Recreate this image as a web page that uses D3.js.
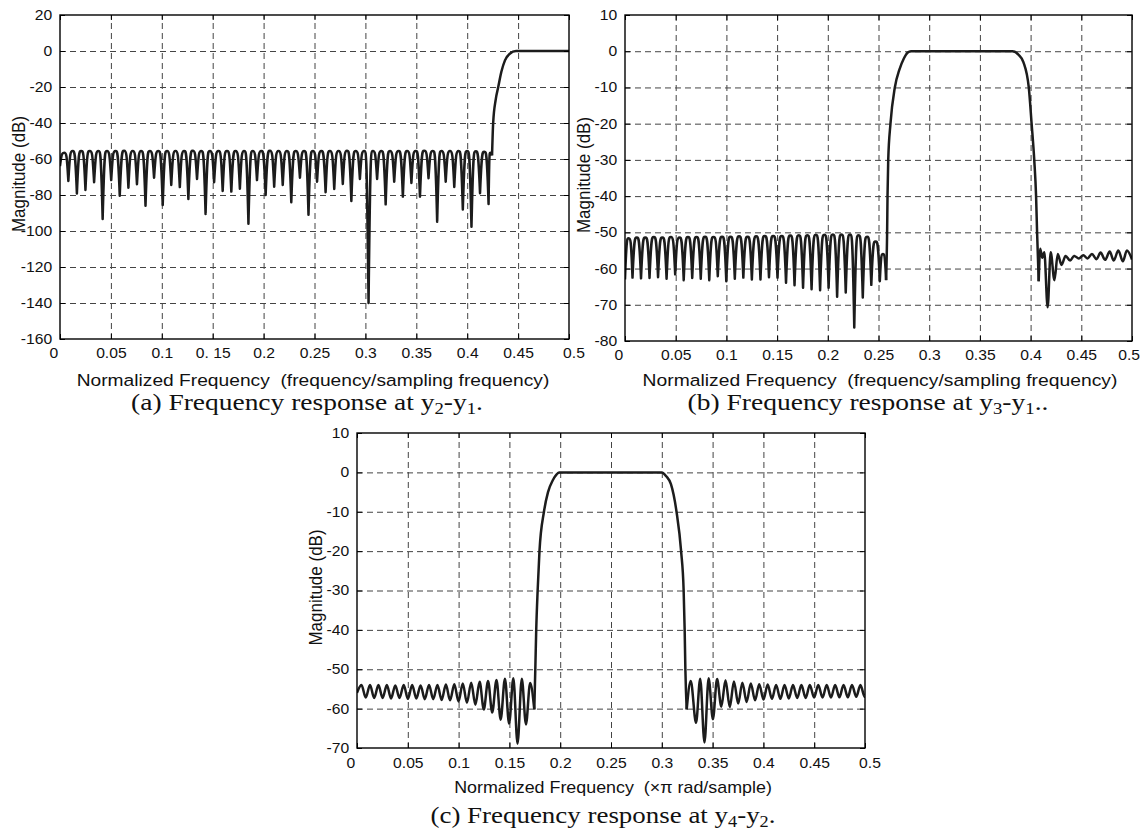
<!DOCTYPE html>
<html>
<head>
<meta charset="utf-8">
<script src="https://cdn.jsdelivr.net/npm/d3@7"></script>
<style>
  body { margin: 0; background: #fff; }
  svg { display: block; }
</style>
</head>
<body>
<svg width="1145" height="835"></svg>
<script>
///////////////////////////////////////////
// Data
var xTicks = [0, 0.05, 0.1, 0.15, 0.2, 0.25, 0.3, 0.35, 0.4, 0.45, 0.5];
var xTickLabelsA = ["0", "0.05", "0.1", "0. 15", "0.2", "0.25", "0.3", "0.35", "0.4", "0.45", "0.5"];
var xTickLabels = ["0", "0.05", "0.1", "0.15", "0.2", "0.25", "0.3", "0.35", "0.4", "0.45", "0.5"];
var aYTicks = [20, 0, -20, -40, -60, -80, -100, -120, -140, -160];
var bYTicks = [10, 0, -10, -20, -30, -40, -50, -60, -70, -80];
var cYTicks = [10, 0, -10, -20, -30, -40, -50, -60, -70];

// (a) stopband lobes: notch frequency / notch depth, and the peak of each lobe between two notches
var aNotchF = [0, 0.0082, 0.0166, 0.0250, 0.0335, 0.0419, 0.0503, 0.0587, 0.0672, 0.0756, 0.0840,
  0.0924, 0.1009, 0.1093, 0.1177, 0.1261, 0.1346, 0.1430, 0.1514, 0.1598, 0.1683, 0.1767, 0.1851,
  0.1935, 0.2020, 0.2104, 0.2188, 0.2272, 0.2357, 0.2441, 0.2525, 0.2609, 0.2694, 0.2778, 0.2862,
  0.2946, 0.3031, 0.3115, 0.3199, 0.3283, 0.3368, 0.3452, 0.3536, 0.3620, 0.3705, 0.3789, 0.3873,
  0.3957, 0.4042, 0.4126, 0.4210, 0.4244];
var aNotchDb = [-64, -72.2, -79.1, -77.2, -72.9, -93.3, -71.7, -80.4, -76.0, -74.0, -86.0,
  -70.4, -85.5, -74.4, -75.6, -82.2, -71.1, -90.5, -72.9, -77.8, -78.1, -76.5, -96.0,
  -71.7, -80.0, -75.4, -74.4, -84.0, -70.4, -91.0, -72.6, -78.5, -76.7, -73.9, -83.3,
  -71.1, -140.0, -71.1, -85.2, -72.6, -80.9, -73.3, -80.9, -70.7, -94.8, -72.6, -75.5,
  -88.0, -97.6, -79.0, -85.0, -58];
var aPeakDb = [-56.5, -55.6, -55.5, -55.5, -55.6, -55.5, -55.5, -55.4, -55.5, -55.6,
  -55.5, -55.5, -55.5, -55.6, -55.5, -55.4, -55.5, -55.5, -55.6, -55.5,
  -55.5, -55.5, -55.6, -55.5, -55.4, -55.5, -55.5, -55.6, -55.5, -55.5,
  -55.5, -55.6, -55.5, -55.4, -55.5, -55.5, -55.6, -55.5, -55.5, -55.5,
  -55.6, -55.5, -55.4, -55.5, -55.5, -55.6, -55.5, -55.5, -55.7, -56.0, -56.5];
// (a) transition band and passband
var aEdgeF = [0.4244, 0.4255, 0.4280, 0.4305, 0.4335, 0.4371, 0.4418, 0.4480, 0.5];
var aEdgeDb = [-58, -40, -27, -20, -11.7, -5.2, -1.5, 0, 0];

// (b) lower stopband lobes
var bNotchF = [0, 0.0074, 0.0158, 0.0242, 0.0326, 0.0410, 0.0495, 0.0579, 0.0663, 0.0747, 0.0831,
  0.0915, 0.0999, 0.1083, 0.1167, 0.1251, 0.1336, 0.1420, 0.1504, 0.1588, 0.1672, 0.1756,
  0.1840, 0.1924, 0.2008, 0.2092, 0.2177, 0.2261, 0.2345, 0.2429, 0.2513, 0.2575];
var bNotchDb = [-63, -62.5, -62.7, -62.6, -62.4, -62.8, -61.6, -63.2, -62.6, -62.8, -63.2,
  -62.1, -63.5, -62.8, -62.5, -63.0, -63.0, -62.4, -62.5, -63.9, -64.6, -65.3,
  -65.7, -66.0, -65.3, -67.8, -66.6, -76.3, -68.0, -64.5, -63.5, -63.2];
var bPeakDb = [-51.6, -51.4, -51.4, -51.3, -51.4, -51.3, -51.4, -51.3, -51.3, -51.2, -51.3,
  -51.2, -51.2, -51.1, -51.2, -51.1, -51.0, -51.0, -51.0, -50.9, -50.8, -50.8, -50.7,
  -50.7, -50.6, -50.6, -50.6, -50.8, -51.2, -52.5, -56.0];
// (b) passband
var bEdgeF = [0.2575, 0.2585, 0.2589, 0.2596, 0.2618, 0.2661, 0.2707, 0.2750, 0.2786, 0.2821,
  0.3821, 0.3882, 0.3929, 0.3982, 0.4010, 0.4036, 0.4054, 0.4064, 0.4080];
var bEdgeDb = [-63.2, -50, -40, -30, -20, -10, -5, -2, -0.4, 0,
  0, -1, -3, -10, -20, -30, -40, -50, -63.5];
// (b) upper stopband
var bRightF = [0.4080, 0.4095, 0.4115, 0.4135, 0.4168, 0.4198, 0.4235, 0.4268, 0.4305, 0.4345,
  0.4390, 0.4430, 0.4475, 0.4520, 0.4560, 0.4605, 0.4650, 0.4690, 0.4735, 0.4780, 0.4820,
  0.4865, 0.4910, 0.4950, 0.5000];
var bRightDb = [-63.5, -54.5, -57.0, -55.5, -70.7, -55.5, -63.2, -56.0, -59.0, -56.5,
  -57.8, -56.5, -57.2, -56.3, -57.2, -56.0, -57.4, -55.6, -57.6, -55.3, -57.8,
  -55.0, -58.0, -55.0, -57.5];

// (c) lower stopband (alternating peak / trough)
var cLeftF = [0, 0.0044, 0.0086, 0.0128, 0.0169, 0.0211, 0.0252, 0.0294, 0.0335, 0.0377, 0.0418,
  0.0460, 0.0501, 0.0543, 0.0584, 0.0626, 0.0667, 0.0709, 0.0750, 0.0792, 0.0833, 0.0875,
  0.0916, 0.0958, 0.0999, 0.1041, 0.1082, 0.1124, 0.1165, 0.1207, 0.1248, 0.1290, 0.1331,
  0.1373, 0.1414, 0.1456, 0.1497, 0.1539, 0.1580, 0.1622, 0.1663, 0.1704, 0.1745];
var cLeftDb = [-56.0, -54.0, -57.2, -54.0, -57.3, -54.0, -57.3, -54.0, -57.4, -54.1, -57.3,
  -54.0, -57.5, -54.0, -57.4, -54.1, -57.6, -54.0, -57.6, -54.0, -57.8, -53.9,
  -57.9, -53.8, -58.2, -53.6, -58.5, -53.4, -59.0, -53.2, -60.2, -53.0, -61.0,
  -52.7, -62.8, -52.4, -63.8, -52.3, -68.9, -52.4, -64.0, -53.5, -60.2];
// (c) passband
var cEdgeF = [0.1745, 0.1755, 0.1764, 0.1778, 0.1796, 0.1840, 0.1880, 0.1927, 0.1965, 0.1990,
  0.3000, 0.3044, 0.3090, 0.3145, 0.3190, 0.3215, 0.3225, 0.3232, 0.3245];
var cEdgeDb = [-60.2, -50, -40, -30, -20, -10, -5, -2, -0.5, 0,
  0, -1, -3, -10, -20, -30, -40, -50, -60.2];
// (c) upper stopband
var cRightF = [0.3245, 0.3285, 0.3337, 0.3378, 0.3420, 0.3461, 0.3503, 0.3544, 0.3586, 0.3627,
  0.3669, 0.3710, 0.3752, 0.3793, 0.3835, 0.3876, 0.3918, 0.3959, 0.4001, 0.4042, 0.4084,
  0.4125, 0.4167, 0.4208, 0.4250, 0.4291, 0.4333, 0.4374, 0.4416, 0.4457, 0.4499, 0.4540,
  0.4582, 0.4623, 0.4665, 0.4706, 0.4748, 0.4789, 0.4831, 0.4872, 0.4914, 0.4955, 0.4997, 0.5];
var cRightDb = [-60.2, -53.0, -63.6, -52.4, -68.6, -52.3, -62.7, -52.5, -59.5, -52.8,
  -59.6, -53.1, -58.7, -53.4, -58.3, -53.6, -57.9, -53.8, -57.7, -53.9, -57.5,
  -54.0, -57.5, -54.0, -57.4, -54.0, -57.3, -54.0, -57.3, -54.0, -57.2, -54.0,
  -57.2, -54.0, -57.2, -54.0, -57.1, -54.0, -57.1, -54.0, -57.0, -54.0, -57.0, -56.9];

///////////////////////////////////////////
// Layout Setting
var sansFont = "'Liberation Sans', Arial, Helvetica, sans-serif",
    serifFont = "'Liberation Serif', 'Times New Roman', serif",
    tickFontSize = 14,
    labelFontSize = 17,
    captionFontSize = 24,
    textStretch = 1.12,   // the picture is a little wider than tall, text included
    lineColor = "#1c1c1c",
    lineWidth = 2.5,
    gridColor = "#444";

var panels = [
  { id: "a", left: 60, right: 569, top: 15, bottom: 339, yDomain: [-160, 20], yTicks: aYTicks,
    xLabels: xTickLabelsA, xTitle: "Normalized Frequency  (frequency/sampling frequency)",
    xTitleX: 313, xTitleY: 386, xTitleW: 473, xTitleSize: 17, lastDx: 4,
    capX: 307, captionY: 410, capW: 352, cap: ["(a) Frequency response at y", "2", "-y", "1", "."],
    lobes: [{ f: aNotchF, db: aNotchDb, pk: aPeakDb }],
    smooth: [{ f: aEdgeF, db: aEdgeDb }] },
  { id: "b", left: 625, right: 1132, top: 15, bottom: 341, yDomain: [-80, 10], yTicks: bYTicks,
    xLabels: xTickLabels, xTitle: "Normalized Frequency  (frequency/sampling frequency)",
    xTitleX: 880, xTitleY: 386, xTitleW: 475, xTitleSize: 17, lastDx: -3,
    capX: 868, captionY: 410, capW: 361, cap: ["(b) Frequency response at y", "3", "-y", "1", ".."],
    lobes: [{ f: bNotchF, db: bNotchDb, pk: bPeakDb }],
    smooth: [{ f: bEdgeF, db: bEdgeDb }, { f: bRightF, db: bRightDb }] },
  { id: "c", left: 357, right: 865, top: 433, bottom: 748, yDomain: [-70, 10], yTicks: cYTicks,
    xLabels: xTickLabels, xTitle: "Normalized Frequency  (\u00d7\u03c0 rad/sample)",
    xTitleX: 613, xTitleY: 793, xTitleW: 318, xTitleSize: 16, lastDx: 4,
    capX: 603, captionY: 823, capW: 345, cap: ["(c) Frequency response at y", "4", "-y", "2", "."],
    lobes: [],
    smooth: [{ f: cLeftF, db: cLeftDb }, { f: cEdgeF, db: cEdgeDb }, { f: cRightF, db: cRightDb }] }
];

var svg = d3.select("svg");

///////////////////////////////////////////
// Lobes: each lobe is drawn as two cubic halves, notch -> peak -> notch,
// steep at the notch and round at the peak (the usual look of a dB stopband)
function lobePath(f, db, pk, x, y) {
  var p = d3.path();
  p.moveTo(x(f[0]), y(db[0]));
  for (var i = 1; i < f.length; i++) {
    var x0 = x(f[i - 1]), y0 = y(db[i - 1]), x1 = x(f[i]), y1 = y(db[i]);
    var yp = y(pk[i - 1] !== undefined ? pk[i - 1] : pk[pk.length - 1]);
    var xm = (x0 + x1) / 2, h = xm - x0;
    p.bezierCurveTo(x0 + 0.4 * h, yp, xm - 0.5 * h, yp, xm, yp);
    p.bezierCurveTo(xm + 0.5 * h, yp, x1 - 0.4 * h, yp, x1, y1);
  }
  return p.toString();
}

// squeeze / stretch a text horizontally about cx so it spans width w
function fitWidth(sel, cx, w) {
  var bw = sel.node().getBBox().width || w;
  var s = w / bw;
  sel.attr("transform", "translate(" + cx + ",0) scale(" + s + ",1) translate(" + (-cx) + ",0)");
}

panels.forEach(function(P) {
  var x = d3.scaleLinear().domain([0, 0.5]).range([P.left, P.right]);
  var y = d3.scaleLinear().domain(P.yDomain).range([P.bottom, P.top]);
  var h = P.bottom - P.top, w = P.right - P.left;
  var g = svg.append("g").attr("class", "panel-" + P.id);

  // grid (dashed)
  var gridX = xTicks.filter(function(d) { return d > 0 && d < 0.5; });
  var gridY = P.yTicks.filter(function(d) { return d > P.yDomain[0] && d < P.yDomain[1]; });
  g.append("g").attr("transform", "translate(0," + P.bottom + ")")
    .call(d3.axisBottom(x).tickValues(gridX).tickSize(-h).tickFormat(""))
    .call(function(s) { s.select(".domain").remove(); })
    .selectAll("line").attr("stroke", gridColor).attr("stroke-width", 1).attr("stroke-dasharray", "6,4");
  g.append("g").attr("transform", "translate(" + P.left + ",0)")
    .call(d3.axisLeft(y).tickValues(gridY).tickSize(-w).tickFormat(""))
    .call(function(s) { s.select(".domain").remove(); })
    .selectAll("line").attr("stroke", gridColor).attr("stroke-width", 1).attr("stroke-dasharray", "6,4");

  // clip for curves
  g.append("clipPath").attr("id", "clip-" + P.id)
    .append("rect").attr("x", P.left).attr("y", P.top).attr("width", w).attr("height", h);
  var curves = g.append("g").attr("clip-path", "url(#clip-" + P.id + ")");

  P.lobes.forEach(function(L) {
    curves.append("path").attr("d", lobePath(L.f, L.db, L.pk, x, y))
      .attr("fill", "none").attr("stroke", lineColor).attr("stroke-width", lineWidth)
      .attr("stroke-linejoin", "round");
  });
  var line = d3.line().curve(d3.curveMonotoneX)
    .x(function(d) { return x(d[0]); }).y(function(d) { return y(d[1]); });
  P.smooth.forEach(function(S) {
    curves.append("path").attr("d", line(d3.zip(S.f, S.db)))
      .attr("fill", "none").attr("stroke", lineColor).attr("stroke-width", lineWidth)
      .attr("stroke-linejoin", "round");
  });

  // axes: inward ticks, labels on bottom and left
  var ax = g.append("g").attr("transform", "translate(0," + P.bottom + ")")
    .call(d3.axisBottom(x).tickValues(xTicks).tickSizeInner(-5).tickSizeOuter(0).tickPadding(P.id === "c" ? 10 : 9)
      .tickFormat(function(d, i) { return P.xLabels[i]; }));
  var ay = g.append("g").attr("transform", "translate(" + P.left + ",0)")
    .call(d3.axisLeft(y).tickValues(P.yTicks).tickSizeInner(-5).tickSizeOuter(0).tickPadding(7)
      .tickFormat(function(d) { return String(d); }));
  [ax, ay].forEach(function(a) {
    a.select(".domain").remove();
    a.selectAll("line").attr("stroke", "#000");
    a.selectAll("text").attr("font-family", sansFont).attr("font-size", tickFontSize)
      .attr("fill", "#111").style("white-space", "pre")
      .attr("transform", "scale(" + textStretch + ",1)");
  });
  // end labels sit slightly outside the box, as in the picture
  ax.selectAll(".tick text").filter(function(d) { return d === 0; }).attr("dx", -6);
  ax.selectAll(".tick text").filter(function(d) { return d === 0.5; }).attr("dx", P.lastDx);

  // top / right ticks
  g.append("g").attr("transform", "translate(0," + P.top + ")")
    .call(d3.axisTop(x).tickValues(xTicks).tickSizeInner(-5).tickSizeOuter(0).tickFormat(""))
    .call(function(s) { s.select(".domain").remove(); });
  g.append("g").attr("transform", "translate(" + P.right + ",0)")
    .call(d3.axisRight(y).tickValues(P.yTicks).tickSizeInner(-5).tickSizeOuter(0).tickFormat(""))
    .call(function(s) { s.select(".domain").remove(); });

  // box
  g.append("rect").attr("x", P.left).attr("y", P.top).attr("width", w).attr("height", h)
    .attr("fill", "none").attr("stroke", "#000").attr("stroke-width", 1.4);

  // axis titles
  var xt = g.append("text").attr("x", P.xTitleX).attr("y", P.xTitleY)
    .attr("text-anchor", "middle").attr("font-family", sansFont).attr("font-size", P.xTitleSize)
    .attr("fill", "#111").style("white-space", "pre").text(P.xTitle);
  fitWidth(xt, P.xTitleX, P.xTitleW);
  g.append("text")
    .attr("transform", "translate(" + (P.left - 42) + "," + ((P.top + P.bottom) / 2 - 3) + ") scale(" + textStretch + ",1) rotate(-90)")
    .attr("dy", "0.35em").attr("text-anchor", "middle").attr("font-family", sansFont)
    .attr("font-size", labelFontSize).attr("fill", "#111").text("Magnitude (dB)");

  // caption with subscripts
  var cap = g.append("text").attr("x", P.capX).attr("y", P.captionY)
    .attr("text-anchor", "middle").attr("font-family", serifFont).attr("font-size", captionFontSize)
    .attr("fill", "#111");
  cap.append("tspan").text(P.cap[0]);
  cap.append("tspan").attr("dy", 4).attr("font-size", captionFontSize * 0.68).text(P.cap[1]);
  cap.append("tspan").attr("dy", -4).text(P.cap[2]);
  cap.append("tspan").attr("dy", 4).attr("font-size", captionFontSize * 0.68).text(P.cap[3]);
  cap.append("tspan").attr("dy", -4).text(P.cap[4]);
  fitWidth(cap, P.capX, P.capW);
});
</script>
</body>
</html>
